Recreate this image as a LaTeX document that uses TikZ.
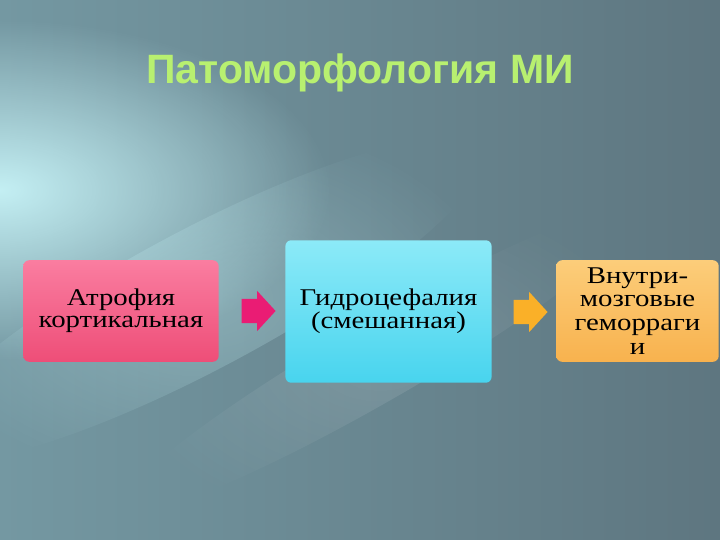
\documentclass[tikz,border=0pt]{standalone}
\usepackage{fontspec}
\setmainfont[FakeStretch=1.2]{Liberation Serif}
\newfontfamily\titlefont{Liberation Sans}
\usetikzlibrary{shapes.arrows,fadings}
\definecolor{bgdark}{RGB}{94,118,128}
\definecolor{bgmid}{RGB}{116,152,162}
\definecolor{bglight}{RGB}{200,244,248}
\definecolor{titlegreen}{RGB}{184,240,112}
\definecolor{pinktop}{RGB}{250,125,160}
\definecolor{pinkbot}{RGB}{238,78,120}
\definecolor{cyantop}{RGB}{140,234,248}
\definecolor{cyanbot}{RGB}{72,212,238}
\definecolor{orangetop}{RGB}{252,205,122}
\definecolor{orangebot}{RGB}{248,178,78}
\definecolor{arrowpink}{RGB}{234,28,116}
\definecolor{arroworange}{RGB}{250,176,40}
\tikzfading[name=glow, inner color=transparent!0, outer color=transparent!100]
\tikzset{
  stage/.style={
    rounded corners=5pt,
    align=center,
    inner sep=0pt,
    text=black,
    font=\fontsize{20.5}{18.5}\selectfont
  },
  blockarrow/.style={
    single arrow,
    single arrow head extend=6.8pt,
    single arrow tip angle=95,
    minimum height=29pt,
    inner sep=0pt,
    inner ysep=10.2pt
  }
}

\begin{document}
\begin{tikzpicture}[x=0.03cm, y=-0.03cm]
  \useasboundingbox (0,0) rectangle (720,540);

  % Background
  \shade[left color=bgmid, right color=bgdark] (0,0) rectangle (720,540);
  \fill[bglight, path fading=glow, opacity=0.95] (0,190) ellipse (330 and 170);
  \fill[bglight, path fading=glow, opacity=0.3, rotate around={28:(200,300)}] (200,300) ellipse (320 and 70);
  \fill[white, path fading=glow, opacity=0.12, rotate around={30:(380,360)}] (380,360) ellipse (300 and 40);

  % Title
  \node[font=\titlefont\bfseries\fontsize{35}{38}\selectfont, text=titlegreen] (title) at (360,73) {Патоморфология МИ};

  % Stages
  \node[stage, top color=pinktop, bottom color=pinkbot, minimum width=166.7pt, minimum height=86.7pt] (atrophy) at (121,311) {Атрофия\\кортикальная};
  \node[stage, top color=cyantop, bottom color=cyanbot, minimum width=176pt, minimum height=121.6pt] (hydro) at (388.5,311.5) {Гидроцефалия\\(смешанная)};
  \node[stage, font=\fontsize{20.5}{20.4}\selectfont, top color=orangetop, bottom color=orangebot, minimum width=138.6pt, minimum height=86.7pt] (hemorr) at (637.5,311) {Внутри-\\мозговые\\геморраги\\и};

  % Arrows
  \node[blockarrow, fill=arrowpink] (arr1) at (253,311) {};
  \node[blockarrow, fill=arroworange] (arr2) at (525,312) {};
\end{tikzpicture}
\end{document}
